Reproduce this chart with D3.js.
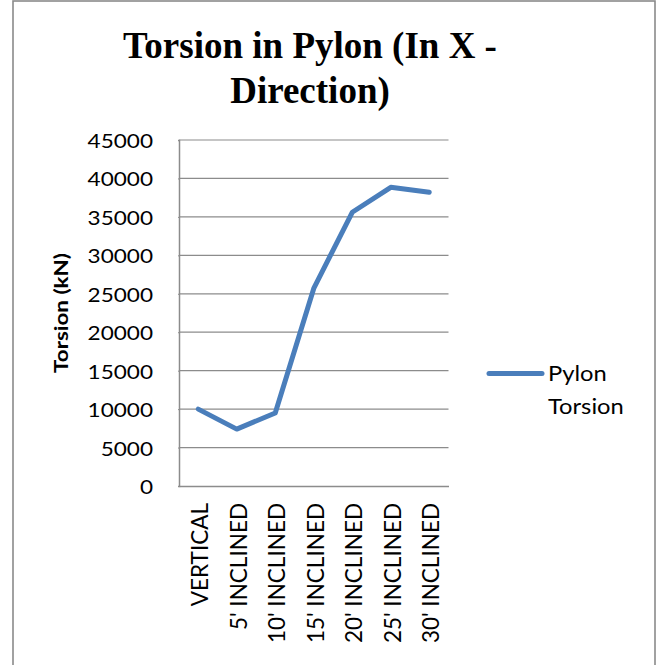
<!DOCTYPE html>
<html>
<head>
<meta charset="utf-8">
<script src="https://cdn.jsdelivr.net/npm/d3@7"></script>
<style>
  html, body { margin: 0; padding: 0; background: #fff; }
  svg { display: block; }
</style>
</head>
<body>
<svg id="chart" width="661" height="665"></svg>
<script>
const titleLines = ["Torsion in Pylon (In X -", "Direction)"];
const categories = ["VERTICAL", "5' INCLINED", "10' INCLINED", "15' INCLINED", "20' INCLINED", "25' INCLINED", "30' INCLINED"];
const torsion = [10000, 7400, 9500, 25700, 35600, 38850, 38200];
const yTicks = [0, 5000, 10000, 15000, 20000, 25000, 30000, 35000, 40000, 45000];
const yTitle = "Torsion (kN)";
const legendLabel = ["Pylon", "Torsion"];

const svg = d3.select("#chart");
const lineColor = "#4A7EBB";
const gridColor = "#8C8C8C";

// outer frame
svg.append("rect")
  .attr("x", 13).attr("y", 1).attr("width", 642).attr("height", 700)
  .attr("fill", "none").attr("stroke", "#8a8a8a").attr("stroke-width", 1.6);

// title
svg.append("text")
  .attr("text-anchor", "middle")
  .attr("font-family", "'Liberation Serif', 'Times New Roman', serif")
  .attr("font-weight", "bold")
  .attr("font-size", 37)
  .attr("fill", "#000")
  .selectAll("tspan").data(titleLines).join("tspan")
  .attr("x", 310)
  .attr("y", (d, i) => 58 + i * 45)
  .text(d => d);

const plotLeft = 179, plotRight = 448.5, plotTop = 140, plotBottom = 486;

const x = d3.scaleBand().domain(categories).range([plotLeft, plotRight]).padding(0);
const y = d3.scaleLinear().domain([0, 45000]).range([plotBottom, plotTop]);

// gridlines
svg.append("g").selectAll("line").data(yTicks.filter(d => d > 0)).join("line")
  .attr("x1", plotLeft).attr("x2", plotRight)
  .attr("y1", d => y(d)).attr("y2", d => y(d))
  .attr("stroke", gridColor).attr("stroke-width", 1.2);

// y axis via d3 axis (line only), labels custom stretched
const yAxisG = svg.append("g").attr("transform", `translate(${plotLeft},0)`)
  .call(d3.axisLeft(y).tickValues(yTicks).tickSize(1).tickFormat(""));
yAxisG.select(".domain").attr("stroke", gridColor).attr("stroke-width", 1.5);
yAxisG.selectAll(".tick line").attr("stroke", gridColor);

svg.append("g").selectAll("text").data(yTicks).join("text")
  .attr("transform", d => `translate(153,${y(d) + 8}) scale(1.22,1)`)
  .attr("text-anchor", "end")
  .attr("font-family", "Lato, 'Open Sans', sans-serif")
  .attr("font-size", 18.5)
  .attr("fill", "#000")
  .text(d => d);

// x axis
const xAxisG = svg.append("g").attr("transform", `translate(0,${plotBottom})`)
  .call(d3.axisBottom(x).tickSize(0).tickFormat(""));
xAxisG.select(".domain").attr("stroke", gridColor).attr("stroke-width", 1.5);

svg.append("g").selectAll("text").data(categories).join("text")
  .attr("transform", d => `translate(${x(d) + x.bandwidth() / 2 + 10},503) rotate(-90)`)
  .attr("text-anchor", "end")
  .attr("font-family", "Lato, 'Open Sans', sans-serif")
  .attr("font-size", 22.5)
  .attr("fill", "#000")
  .text(d => d);

// y axis title
svg.append("text")
  .attr("transform", "translate(68,313) rotate(-90) scale(1.18,1)")
  .attr("text-anchor", "middle")
  .attr("font-family", "Lato, 'Open Sans', sans-serif")
  .attr("font-weight", "bold")
  .attr("font-size", 19)
  .attr("fill", "#000")
  .text(yTitle);

// series line
const line = d3.line()
  .x((d, i) => x(categories[i]) + x.bandwidth() / 2)
  .y(d => y(d));
svg.append("path")
  .datum(torsion)
  .attr("d", line)
  .attr("fill", "none")
  .attr("stroke", lineColor)
  .attr("stroke-width", 5)
  .attr("stroke-linecap", "round")
  .attr("stroke-linejoin", "round");

// legend
svg.append("line")
  .attr("x1", 489).attr("x2", 542).attr("y1", 373.5).attr("y2", 373.5)
  .attr("stroke", lineColor).attr("stroke-width", 5).attr("stroke-linecap", "round");
svg.append("g").selectAll("text").data(legendLabel).join("text")
  .attr("transform", (d, i) => `translate(548,${381 + i * 33}) scale(1.13,1)`)
  .attr("font-family", "Lato, 'Open Sans', sans-serif")
  .attr("font-size", 21)
  .attr("fill", "#000")
  .text(d => d);
</script>
</body>
</html>
